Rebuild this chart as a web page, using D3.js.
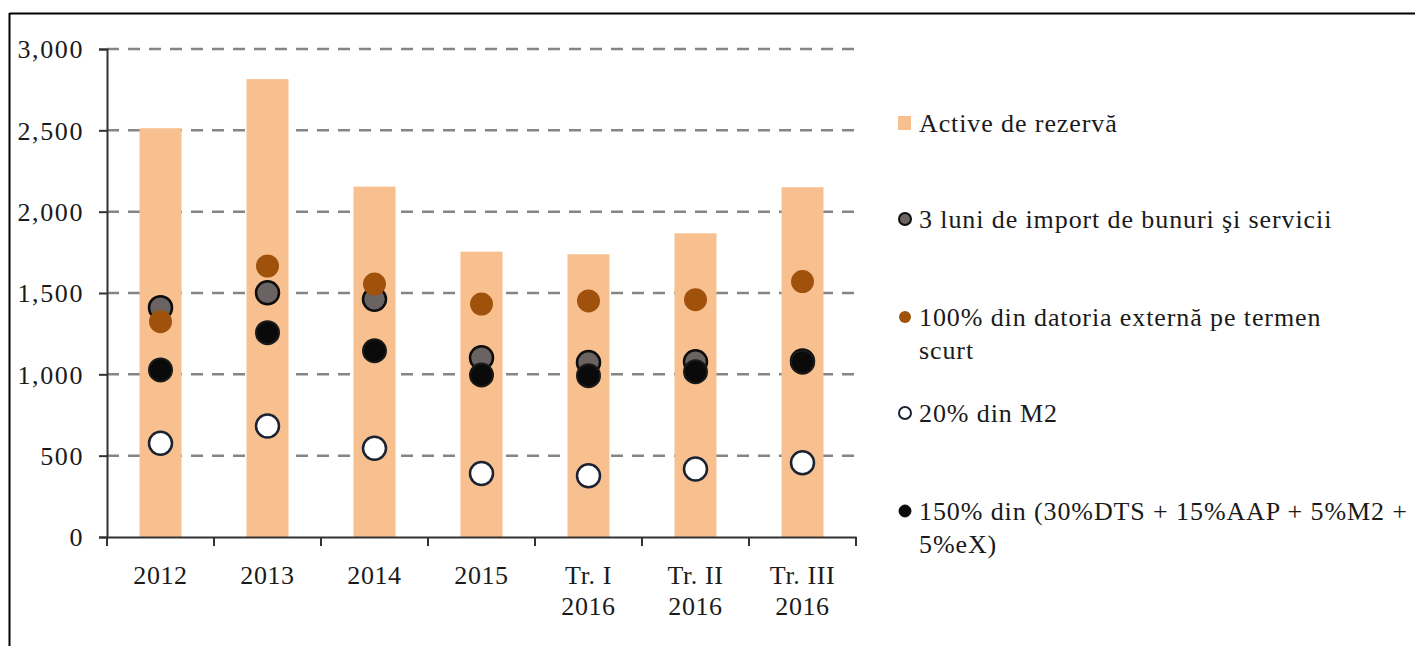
<!DOCTYPE html>
<html><head><meta charset="utf-8">
<script src="https://cdn.jsdelivr.net/npm/d3@7"></script>
<style>body{margin:0;background:#fff}svg{display:block}text{font-family:"Liberation Serif","DejaVu Serif",serif;fill:#1a1a1a}</style>
</head><body><svg id="c" width="1415" height="646"></svg>
<script>
const categories = [["2012"],["2013"],["2014"],["2015"],["Tr. I","2016"],["Tr. II","2016"],["Tr. III","2016"]];
const activeRezerva = [2513, 2815, 2154, 1754, 1738, 1867, 2150];
const importLuni = [1410, 1502, 1461, 1102, 1072, 1078, 1082];
const datoriaExterna = [1324, 1666, 1555, 1432, 1451, 1459, 1570];
const m2 = [576, 682, 545, 391, 377, 418, 457];
const compozit = [1027, 1256, 1145, 996, 992, 1016, 1075];
const yTicks = [0, 500, 1000, 1500, 2000, 2500, 3000];
const legendLabels = [["Active de rezervă"],["3 luni de import de bunuri şi servicii"],["100% din datoria externă pe termen","scurt"],["20% din M2"],["150% din (30%DTS + 15%AAP + 5%M2 +","5%eX)"]];

const svg = d3.select("#c");
// frame
svg.append("line").attr("x1",9.5).attr("x2",1415).attr("y1",13.5).attr("y2",13.5).attr("stroke","#000").attr("stroke-width",2);
svg.append("line").attr("x1",9.5).attr("x2",9.5).attr("y1",13).attr("y2",646).attr("stroke","#000").attr("stroke-width",2);

const x = d3.scaleBand().domain(d3.range(categories.length)).range([107, 856]);
const y = d3.scaleLinear().domain([0, 3000]).range([537, 49]);

// gridlines
svg.append("g").selectAll("line").data(yTicks.filter(d=>d>0)).join("line")
  .attr("x1",107).attr("x2",856).attr("y1",d=>y(d)).attr("y2",d=>y(d))
  .attr("stroke","#858585").attr("stroke-width",2.5).attr("stroke-dasharray","12,9");

// bars
const bw = 42;
svg.append("g").selectAll("rect").data(activeRezerva).join("rect")
  .attr("x",(d,i)=>x(i)+x.bandwidth()/2-bw/2).attr("width",bw)
  .attr("y",d=>y(d)).attr("height",d=>y(0)-y(d)).attr("fill","#F9C08F");

// y axis
const ya = svg.append("g").attr("transform","translate(107,0)")
  .call(d3.axisLeft(y).tickValues(yTicks).tickSize(8).tickPadding(15).tickFormat(d3.format(",")));
ya.select(".domain").attr("stroke","#333").attr("stroke-width",2);
ya.selectAll(".tick line").attr("stroke","#333").attr("stroke-width",2);
ya.selectAll("text").attr("font-size",26).attr("letter-spacing",1.6).attr("font-family",null).attr("fill","#1a1a1a").attr("dy","0.34em");

// x axis
const xa = svg.append("g").attr("transform","translate(0,537)")
  .call(d3.axisBottom(x).tickValues([]).tickSizeOuter(0));
xa.select(".domain").attr("stroke","#333").attr("stroke-width",2);
svg.append("g").selectAll("line").data(d3.range(categories.length+1)).join("line")
  .attr("x1",i=>107+i*x.bandwidth()).attr("x2",i=>107+i*x.bandwidth())
  .attr("y1",537).attr("y2",546).attr("stroke","#333").attr("stroke-width",2);
svg.append("g").selectAll("text").data(categories).join("text")
  .attr("text-anchor","middle").attr("font-size",26).attr("letter-spacing",0.6)
  .attr("x",(d,i)=>x(i)+x.bandwidth()/2).attr("y",584)
  .selectAll("tspan").data(d=>d).join("tspan")
  .attr("x",function(){return this.parentNode.getAttribute("x");})
  .attr("dy",(d,j)=>j===0?0:31).text(d=>d);

// dots
const r = 11.5;
const cx = i => x(i)+x.bandwidth()/2;
function dots(data, fill, stroke, sw){
  svg.append("g").selectAll("circle").data(data).join("circle")
    .attr("cx",(d,i)=>cx(i)).attr("cy",d=>y(d)).attr("r",r)
    .attr("fill",fill).attr("stroke",stroke).attr("stroke-width",sw);
}
dots(importLuni, "#6b6262", "#0d0d0d", 2.5);
dots(datoriaExterna, "#A0520C", "none", 0);
dots(compozit, "#0a0a0a", "#1a1a1a", 2);
dots(m2, "#ffffff", "#1b2333", 2.5);

// legend
const ly = [123, 219, 317, 413, 511];
const lg = svg.append("g");
lg.append("rect").attr("x",898).attr("y",ly[0]-7).attr("width",13).attr("height",14).attr("fill","#F9C08F");
const lstyles = [null, ["#6b6262","#0d0d0d",2], ["#A0520C","none",0], ["#fff","#1b2333",2], ["#0a0a0a","#0a0a0a",1]];
lstyles.forEach((s,i)=>{ if(!s) return;
  lg.append("circle").attr("cx",905).attr("cy",ly[i]).attr("r",6).attr("fill",s[0]).attr("stroke",s[1]).attr("stroke-width",s[2]);
});
legendLabels.forEach((lines,i)=>{
  const t = lg.append("text").attr("x",919).attr("y",ly[i]+9).attr("font-size",26).attr("letter-spacing",0.9);
  lines.forEach((l,j)=>t.append("tspan").attr("x",919).attr("dy",j===0?0:33).text(l));
});
</script></body></html>
